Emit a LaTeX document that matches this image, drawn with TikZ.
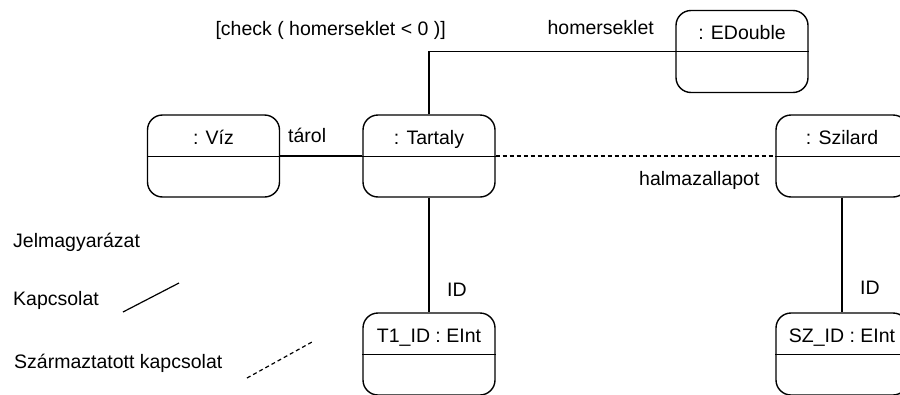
\documentclass[tikz,border=0pt]{standalone}
\usepackage{fontspec}
\setmainfont{Liberation Sans}
\usetikzlibrary{calc}
\begin{document}
\begin{tikzpicture}[x=1pt,y=-1pt,
  objbox/.style={draw,line width=1.4pt,rounded corners=15pt,minimum width=132pt,minimum height=82pt,inner sep=0pt},
  divider/.style={line width=1.2pt},
  lbl/.style={inner sep=0pt,font=\fontsize{19.5}{23}\selectfont},
  link/.style={line width=1.2pt},
  derived/.style={line width=1.2pt,dash pattern=on 4pt off 3pt}]
\useasboundingbox (0,0) rectangle (900,394);

% object box: name, centre, title
\newcommand\umlobject[3]{%
  \node[objbox] (#1) at (#2) {};
  \node[lbl,anchor=base] (#1-title) at ($(#1.north)+(0,30)$) {#3};
  \draw[divider] ($(#1.north west)+(0,42)$) -- ($(#1.north east)+(0,42)$);
}

\umlobject{viz}{213.5,156}{: Víz}
\umlobject{tart}{429,156}{: Tartaly}
\umlobject{edbl}{742,51.5}{: EDouble}
\umlobject{szil}{842,156}{: Szilard}
\umlobject{t1}{429,354}{T1\_ID : EInt}
\umlobject{sz}{842,354}{SZ\_ID : EInt}

% links between the objects
\draw[link] (viz.east) -- (tart.west);
\draw[derived] (tart.east) -- (szil.west);
\draw[link] (tart.north) |- (edbl.west);
\draw[link] (tart.south) -- (t1.north);
\draw[link] (szil.south) -- (sz.north);

% link labels
\node[lbl,anchor=base west] (lTarol) at (288,142) {tárol};
\node[lbl,anchor=base east] (lCheck) at (446,35) {[check ( homerseklet < 0 )]};
\node[lbl,anchor=base east] (lHom) at (654,34) {homerseklet};
\node[lbl,anchor=base west] (lHalm) at (639,185) {halmazallapot};
\node[lbl,anchor=base west] (lId1) at (447,296) {ID};
\node[lbl,anchor=base west] (lId2) at (860,294) {ID};

% legend
\node[lbl,anchor=base west] (legTitle) at (13,247) {Jelmagyarázat};
\node[lbl,anchor=base west] (legLink) at (13,305) {Kapcsolat};
\node[lbl,anchor=base west] (legDerived) at (14,368) {Származtatott kapcsolat};
\coordinate (k1) at (123,312);
\coordinate (k2) at (179,283);
\coordinate (s1) at (247,378);
\coordinate (s2) at (312,342);
\draw[link] (k1) -- (k2);
\draw[derived] (s1) -- (s2);
\end{tikzpicture}
\end{document}
